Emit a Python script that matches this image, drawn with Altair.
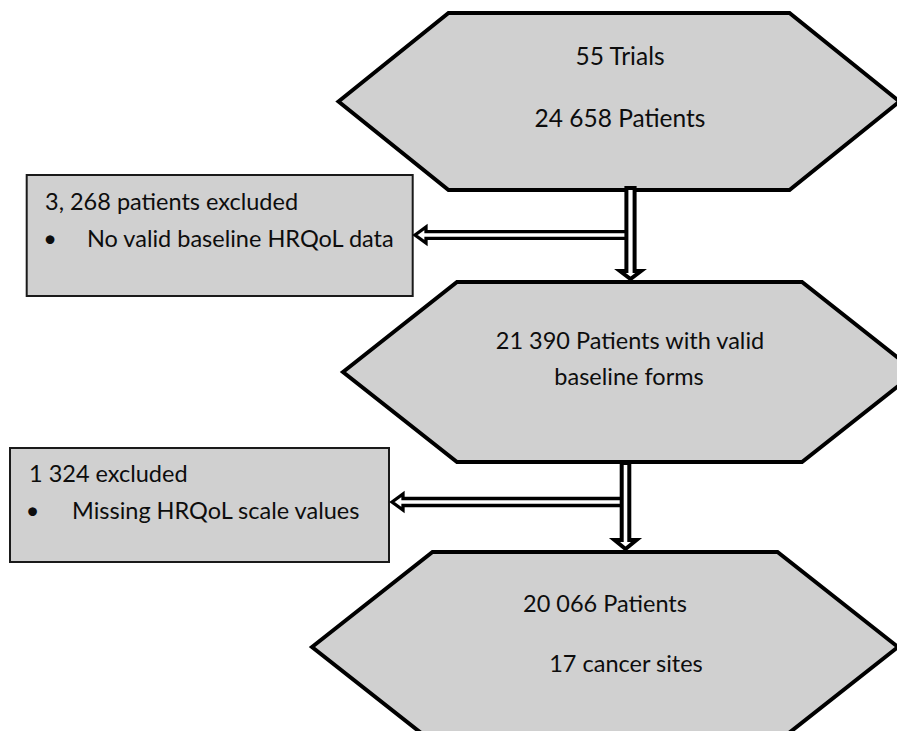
import altair as alt
import pandas as pd

# ---------------- text content ----------------
hex_lines = ["55 Trials", "24 658 Patients",
             "21 390 Patients with valid", "baseline forms",
             "20 066 Patients", "17 cancer sites"]
box_titles = ["3, 268 patients excluded", "1 324 excluded"]
box_bullets = ["No valid baseline HRQoL data", "Missing HRQoL scale values"]

# ---------------- layout (reference pixel frame) ----------------
X0, X1, Y0, Y1 = 8, 897, 8, 731
GRAY = "#d0d0d0"
INK = "#0d0d0d"
FONT = "Lato"
FS = 23.5

hex_layout = [
    dict(cx=619, cy=101.5, hw=280.5, ht=170.5, hh=88.5),
    dict(cx=629.5, cy=372, hw=286.5, ht=172.5, hh=90),
    dict(cx=605, cy=647, hw=293, ht=172.5, hh=95),
]
hex_text_pos = [(620, 58), (620, 120), (630, 342), (629, 378), (605, 605), (626, 665)]
hex_text_size = [24.5, 24.5, FS, FS, FS, FS]

box_layout = [
    dict(x=26.7, x2=412.7, y=175, y2=296, tx=45, ty=203, bx=50, by=240, lx=87),
    dict(x=10, x2=389, y=448, y2=562, tx=29, ty=475, bx=32.5, by=512, lx=72),
]

# vertical arrows: centre x, top y, head base y, tip y
varrows = [dict(cx=630.5, top=188, base=271, tip=279, sw=4.1, hw=10.5),
           dict(cx=625.5, top=463, base=540, tip=549, sw=3.8, hw=11)]
# horizontal arrows: centre y, right x, head base x, tip x
harrows = [dict(cy=235, right=628, base=426, tip=415, sw=3.3, hw=8),
           dict(cy=502, right=622, base=403, tip=392, sw=3.5, hw=8)]
V_SW, H_SW = 4, 3.3

EPS = 0.01

# ---------------- build tables ----------------
hex_rows = []
for i, h in enumerate(hex_layout):
    xs = [h["cx"] - h["hw"], h["cx"] - h["ht"], h["cx"] + h["ht"], h["cx"] + h["hw"]]
    tops = [h["cy"], h["cy"] - h["hh"], h["cy"] - h["hh"], h["cy"]]
    bots = [h["cy"], h["cy"] + h["hh"], h["cy"] + h["hh"], h["cy"]]
    for k in range(4):
        hex_rows.append(dict(id=f"h{i}", x=xs[k], y=tops[k], y2=bots[k]))
hex_df = pd.DataFrame(hex_rows)

va_rows = []
for i, a in enumerate(varrows):
    pts = [(a["top"], a["cx"] - a["sw"], a["cx"] + a["sw"]),
           (a["base"], a["cx"] - a["sw"], a["cx"] + a["sw"]),
           (a["base"] + EPS, a["cx"] - a["hw"], a["cx"] + a["hw"]),
           (a["tip"], a["cx"], a["cx"])]
    for y, xa, xb in pts:
        va_rows.append(dict(id=f"v{i}", y=y, x=xa, x2=xb))
va_df = pd.DataFrame(va_rows)

ha_rows = []
for i, a in enumerate(harrows):
    pts = [(a["right"], a["cy"] - a["sw"], a["cy"] + a["sw"]),
           (a["base"] + EPS, a["cy"] - a["sw"], a["cy"] + a["sw"]),
           (a["base"], a["cy"] - a["hw"], a["cy"] + a["hw"]),
           (a["tip"], a["cy"], a["cy"])]
    for x, ya, yb in pts:
        ha_rows.append(dict(id=f"a{i}", x=x, y=ya, y2=yb))
ha_df = pd.DataFrame(ha_rows)

box_df = pd.DataFrame([dict(x=b["x"], x2=b["x2"], y=b["y"], y2=b["y2"]) for b in box_layout])

hex_text_df = pd.DataFrame([dict(t=t, x=p[0], y=p[1], s=s)
                            for t, p, s in zip(hex_lines, hex_text_pos, hex_text_size)])
box_text_rows = []
for b, t, s in zip(box_layout, box_titles, box_bullets):
    box_text_rows.append(dict(t=t, x=b["tx"], y=b["ty"]))
    box_text_rows.append(dict(t=s, x=b["lx"], y=b["by"]))
box_text_df = pd.DataFrame(box_text_rows)
bullet_df = pd.DataFrame([dict(t="•", x=b["bx"], y=b["by"]) for b in box_layout])

# ---------------- scales ----------------
XS = alt.Scale(domain=[X0, X1], nice=False, zero=False)
YS = alt.Scale(domain=[Y0, Y1], nice=False, zero=False, reverse=True)

hexes = alt.Chart(hex_df).mark_area(
    orient="vertical", fill=GRAY, stroke="black", strokeWidth=4,
    strokeJoin="miter", interpolate="linear"
).encode(
    x=alt.X("x:Q", scale=XS, axis=None),
    y=alt.Y("y:Q", scale=YS, axis=None, stack=None),
    y2="y2:Q",
    detail="id:N",
)

boxes = alt.Chart(box_df).mark_rect(fill=GRAY, stroke="#1a1a1a", strokeWidth=2).encode(
    x=alt.X("x:Q", scale=XS, axis=None), x2="x2:Q",
    y=alt.Y("y:Q", scale=YS, axis=None), y2="y2:Q",
)

harr = alt.Chart(ha_df).mark_area(
    orient="vertical", fill="white", stroke="black", strokeWidth=H_SW,
    strokeJoin="miter", interpolate="linear"
).encode(
    x=alt.X("x:Q", scale=XS, axis=None),
    y=alt.Y("y:Q", scale=YS, axis=None, stack=None),
    y2="y2:Q",
    detail="id:N",
)

varr = alt.Chart(va_df).mark_area(
    orient="horizontal", fill="white", stroke="black", strokeWidth=V_SW,
    strokeJoin="miter", interpolate="linear"
).encode(
    y=alt.Y("y:Q", scale=YS, axis=None),
    x=alt.X("x:Q", scale=XS, axis=None, stack=None),
    x2="x2:Q",
    detail="id:N",
)

hex_text = alt.Chart(hex_text_df).mark_text(
    font=FONT, color=INK, align="center", baseline="middle"
).encode(
    x=alt.X("x:Q", scale=XS, axis=None),
    y=alt.Y("y:Q", scale=YS, axis=None),
    size=alt.Size("s:Q", scale=None, legend=None),
    text="t:N",
)

box_text = alt.Chart(box_text_df).mark_text(
    font=FONT, fontSize=FS, color=INK, align="left", baseline="middle"
).encode(
    x=alt.X("x:Q", scale=XS, axis=None),
    y=alt.Y("y:Q", scale=YS, axis=None),
    text="t:N",
)

bullets = alt.Chart(bullet_df).mark_text(
    font=FONT, fontSize=FS, color=INK, align="center", baseline="middle"
).encode(
    x=alt.X("x:Q", scale=XS, axis=None),
    y=alt.Y("y:Q", scale=YS, axis=None),
    text="t:N",
)

chart = alt.layer(
    hexes, boxes, harr, varr, hex_text, box_text, bullets
).properties(
    width=X1 - X0, height=Y1 - Y0, padding=0, autosize="none", background="white"
).configure_view(stroke=None)

chart.save("out.html", embed_options={"renderer": "svg", "actions": False})
